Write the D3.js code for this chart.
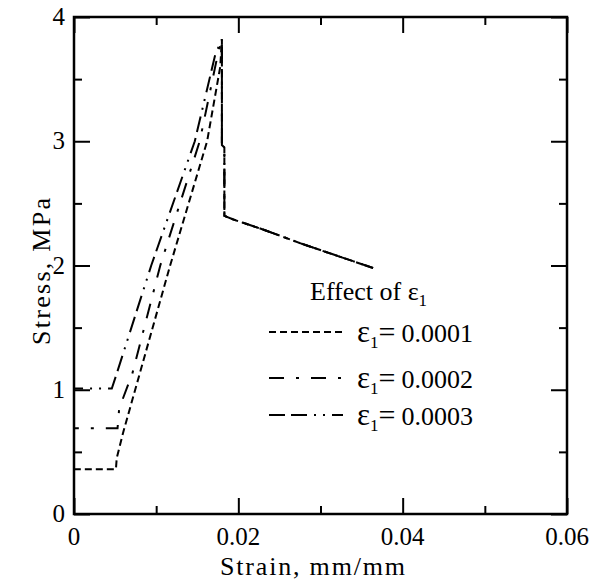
<!DOCTYPE html>
<html>
<head>
<meta charset="utf-8">
<script src="https://cdn.jsdelivr.net/npm/d3@7"></script>
<style>
  html, body { margin: 0; padding: 0; background: #fff; }
</style>
</head>
<body>
<svg id="chart" width="595" height="585"></svg>
<script>
// Rising branch of each curve (strain in mm/mm, stress in MPa)
const strainE1 = [0, 0, 0.0051, 0.0052, 0.0060, 0.0080, 0.0117, 0.0162, 0.0178, 0.0180];
const stressE1 = [0.27, 0.36, 0.36, 0.45, 0.66, 1.13, 2.00, 3.00, 3.60, 3.82];
const strainE2 = [0, 0, 0.0053, 0.0055, 0.0071, 0.0105, 0.0153, 0.0175, 0.0180];
const stressE2 = [0.27, 0.69, 0.69, 0.85, 1.13, 2.00, 3.00, 3.70, 3.82];
const strainE3 = [0, 0, 0.0046, 0.0052, 0.0094, 0.0147, 0.0172, 0.0180];
const stressE3 = [0.27, 1.01, 1.01, 1.13, 2.00, 3.00, 3.70, 3.82];
// Shared drop and softening branch
const tailStrain = [0.0180, 0.0180, 0.0183, 0.0183, 0.0194, 0.0230, 0.0265, 0.0275, 0.0315, 0.0364];
const tailStress = [3.82, 2.97, 2.95, 2.40, 2.37, 2.29, 2.205, 2.18, 2.09, 1.98];

const seriesNames = ["0.0001", "0.0002", "0.0003"];
const dashStyles = ["7,4", "15,12,3,12", "16,6,16,7,2,7,2,7"];

const xTicks = [0, 0.02, 0.04, 0.06];
const xTickLabels = ["0", "0.02", "0.04", "0.06"];
const yTicks = [0, 1, 2, 3, 4];
const yTickLabels = ["0", "1", "2", "3", "4"];
const xMinor = [0.01, 0.03, 0.05];
const yMinor = [0.5, 1.5, 2.5, 3.5];

const FONT = "'Liberation Serif', 'DejaVu Serif', serif";
const svg = d3.select("#chart").attr("font-family", FONT);
const mLeft = 74, mRight = 567, mTop = 17, mBottom = 514;

const x = d3.scaleLinear().domain([0, 0.06]).range([mLeft, mRight]);
const y = d3.scaleLinear().domain([0, 4]).range([mBottom, mTop]);

function pts(xs, ys) { return xs.map((v, i) => [v, ys[i]]); }
const tail = pts(tailStrain, tailStress).slice(1);
const curves = [
  pts(strainE1, stressE1).concat(tail),
  pts(strainE2, stressE2).concat(tail),
  pts(strainE3, stressE3).concat(tail)
];

const line = d3.line().x(d => x(d[0])).y(d => y(d[1]));

const plot = svg.append("g");
curves.forEach((c, i) => {
  plot.append("path")
    .attr("d", line(c))
    .attr("fill", "none")
    .attr("stroke", "#000")
    .attr("stroke-width", 2)
    .attr("stroke-dasharray", dashStyles[i]);
});

// Axes: ticks pointing inward on all four sides
const major = 16, minor = 8;
const axisStyle = g => {
  g.selectAll(".domain").remove();
  g.selectAll("line").attr("stroke", "#000").attr("stroke-width", 2);
};
svg.append("g").attr("transform", `translate(0,${mBottom})`)
  .call(d3.axisTop(x).tickValues(xTicks).tickSize(major).tickFormat("")).call(axisStyle);
svg.append("g").attr("transform", `translate(0,${mBottom})`)
  .call(d3.axisTop(x).tickValues(xMinor).tickSize(minor).tickFormat("")).call(axisStyle);
svg.append("g").attr("transform", `translate(0,${mTop})`)
  .call(d3.axisBottom(x).tickValues(xTicks).tickSize(major).tickFormat("")).call(axisStyle);
svg.append("g").attr("transform", `translate(0,${mTop})`)
  .call(d3.axisBottom(x).tickValues(xMinor).tickSize(minor).tickFormat("")).call(axisStyle);
svg.append("g").attr("transform", `translate(${mLeft},0)`)
  .call(d3.axisRight(y).tickValues(yTicks).tickSize(major).tickFormat("")).call(axisStyle);
svg.append("g").attr("transform", `translate(${mLeft},0)`)
  .call(d3.axisRight(y).tickValues(yMinor).tickSize(minor).tickFormat("")).call(axisStyle);
svg.append("g").attr("transform", `translate(${mRight},0)`)
  .call(d3.axisLeft(y).tickValues(yTicks).tickSize(major).tickFormat("")).call(axisStyle);
svg.append("g").attr("transform", `translate(${mRight},0)`)
  .call(d3.axisLeft(y).tickValues(yMinor).tickSize(minor).tickFormat("")).call(axisStyle);

svg.append("rect")
  .attr("x", mLeft).attr("y", mTop)
  .attr("width", mRight - mLeft).attr("height", mBottom - mTop)
  .attr("fill", "none").attr("stroke", "#000").attr("stroke-width", 2.5);

// Tick labels
svg.append("g").selectAll("text").data(xTicks).join("text")
  .attr("x", d => x(d)).attr("y", 545)
  .attr("text-anchor", "middle").attr("font-size", 25)
  .attr("font-family", FONT)
  .text((d, i) => xTickLabels[i]);
svg.append("g").selectAll("text").data(yTicks).join("text")
  .attr("x", mLeft - 9).attr("y", d => y(d) + 8)
  .attr("text-anchor", "end").attr("font-size", 25)
  .attr("font-family", FONT)
  .text((d, i) => yTickLabels[i]);

// Axis titles
svg.append("text").attr("x", 220).attr("y", 575)
  .attr("font-size", 26).attr("font-family", FONT)
  .attr("textLength", 185).attr("lengthAdjust", "spacing")
  .text("Strain, mm/mm");
svg.append("text")
  .attr("transform", "translate(50,345) rotate(-90)")
  .attr("font-size", 26).attr("font-family", FONT)
  .attr("textLength", 147).attr("lengthAdjust", "spacing")
  .text("Stress, MPa");

// Legend
const legend = svg.append("g").attr("font-family", FONT);
const title = legend.append("text").attr("x", 310).attr("y", 300).attr("font-size", 26);
title.append("tspan").text("Effect of ε");
title.append("tspan").attr("font-size", 17).attr("dy", 6).text("1");

const legendY = [332, 378, 415];
seriesNames.forEach((name, i) => {
  legend.append("line")
    .attr("x1", 269).attr("x2", 343)
    .attr("y1", legendY[i]).attr("y2", legendY[i])
    .attr("stroke", "#000").attr("stroke-width", 2)
    .attr("stroke-dasharray", dashStyles[i]);
  const t = legend.append("text").attr("x", 357).attr("y", legendY[i] + 10).attr("font-size", 26);
  t.append("tspan").attr("font-size", 31).text("ε");
  t.append("tspan").attr("font-size", 17).attr("dy", 6).text("1");
  t.append("tspan").attr("dy", -6).attr("font-size", 30).text("=");
  t.append("tspan").attr("dx", 6).text(name);
});
</script>
</body>
</html>
